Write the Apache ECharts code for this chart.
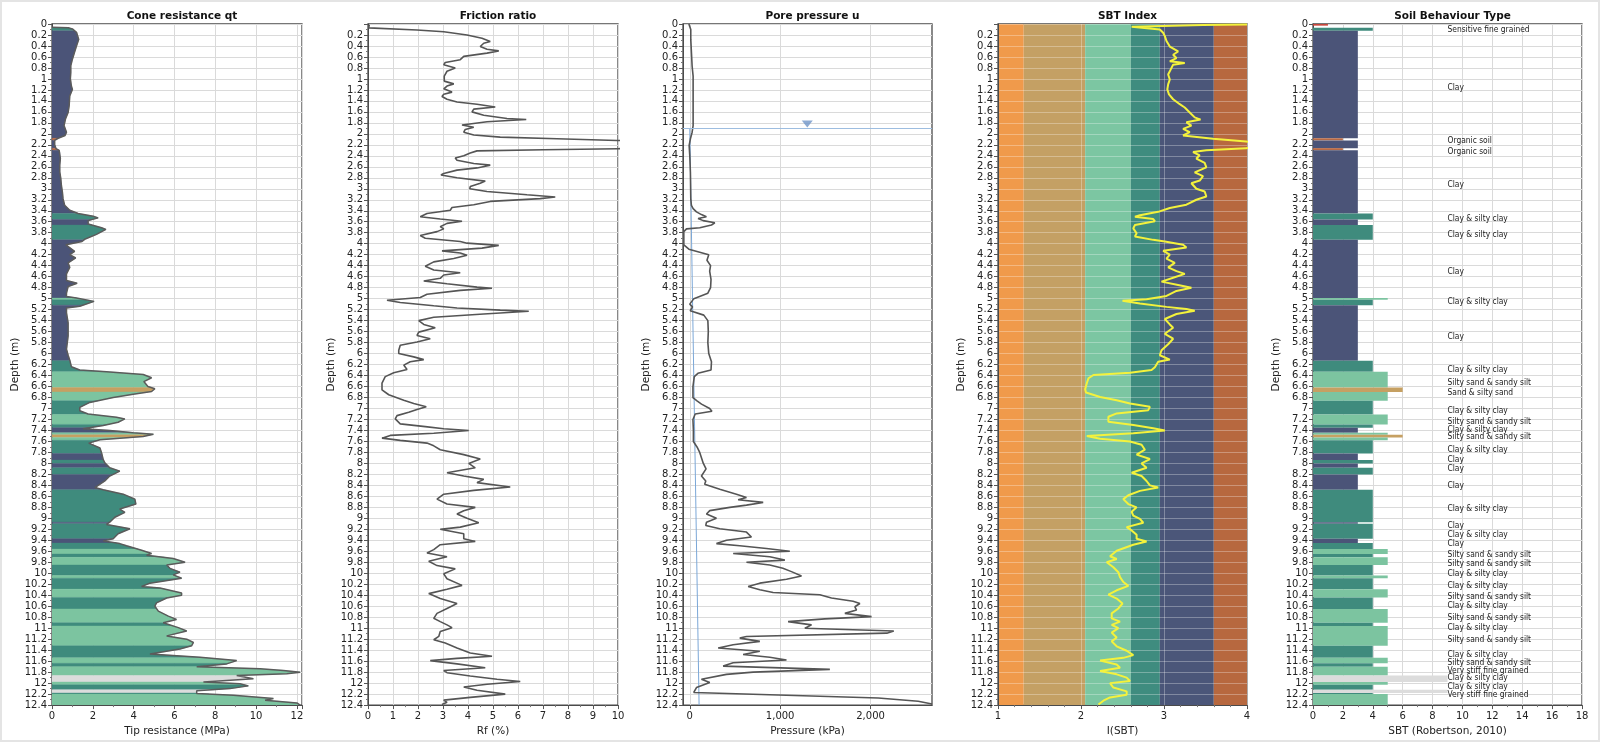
<!DOCTYPE html>
<html><head><meta charset="utf-8">
<script src="https://cdn.jsdelivr.net/npm/echarts@6/dist/echarts.min.js"></script>
<style>html,body{margin:0;padding:0;background:#fff}#c{width:1600px;height:742px}</style>
</head><body><div id="c"></div><script>
// ---------------- DATA ----------------
const panelTitles = ['Cone resistance qt','Friction ratio','Pore pressure u','SBT Index','Soil Behaviour Type'];
const xAxisNames = ['Tip resistance (MPa)','Rf (%)','Pressure (kPa)','I(SBT)','SBT (Robertson, 2010)'];

// Cone resistance qt (MPa) vs depth (m)
const qtDepth = [0.06,0.07,0.09,0.12,0.15,0.28,0.40,0.52,0.64,0.76,0.88,1.00,1.13,1.19,1.31,1.49,1.61,1.73,1.85,1.97,2.03,2.08,2.12,2.20,2.27,2.30,2.33,2.45,2.57,2.69,2.81,2.94,3.06,3.18,3.30,3.39,3.45,3.50,3.53,3.58,3.64,3.71,3.74,3.83,3.92,3.96,4.02,4.14,4.20,4.26,4.35,4.43,4.55,4.67,4.72,4.78,4.90,4.96,4.99,5.05,5.14,5.17,5.26,5.44,5.68,5.92,6.03,6.12,6.24,6.30,6.33,6.38,6.44,6.51,6.60,6.64,6.69,6.74,6.80,6.89,6.98,7.04,7.10,7.16,7.19,7.25,7.31,7.37,7.40,7.44,7.47,7.51,7.57,7.63,7.72,7.81,7.93,7.99,8.08,8.14,8.23,8.32,8.44,8.48,8.56,8.65,8.74,8.83,8.89,8.98,9.07,9.11,9.19,9.28,9.37,9.41,9.46,9.50,9.58,9.64,9.67,9.73,9.80,9.85,9.91,9.98,10.03,10.09,10.18,10.24,10.27,10.36,10.40,10.45,10.54,10.60,10.69,10.78,10.84,10.90,10.99,11.05,11.14,11.20,11.26,11.32,11.38,11.47,11.53,11.59,11.65,11.70,11.74,11.77,11.80,11.83,11.86,11.92,11.98,12.01,12.05,12.10,12.14,12.19,12.22,12.28,12.31,12.36,12.40];
const qtValue = [0.0,0.8,1.0,1.1,1.2,1.31,1.2,1.1,1.0,0.92,0.92,0.9,0.95,1.0,0.87,0.84,0.79,0.66,0.59,0.71,0.64,0.3,0.13,0.13,0.2,0.35,0.38,0.41,0.38,0.38,0.43,0.46,0.51,0.54,0.62,0.87,1.28,2.02,2.26,1.77,1.77,2.43,2.64,2.18,1.6,1.47,0.68,1.11,0.87,1.16,0.79,0.87,0.71,0.71,1.23,0.79,0.71,0.71,1.2,2.06,1.36,0.71,0.71,0.79,0.79,0.71,0.79,0.87,0.95,1.36,2.67,4.47,4.88,4.5,4.7,5.04,4.88,3.98,3.0,1.85,1.36,1.36,1.77,3.16,3.57,3.24,2.51,1.52,2.83,3.98,4.97,4.47,2.35,1.8,2.35,2.43,2.51,2.59,2.83,3.32,2.83,2.59,2.1,2.51,3.49,4.06,4.11,3.32,3.57,3.08,2.83,2.67,3.82,3.24,3.0,2.51,3.32,3.65,4.39,4.88,4.63,5.94,6.52,5.62,5.78,6.27,5.94,6.35,4.8,4.39,5.29,6.35,6.35,5.62,5.12,5.04,5.21,5.7,6.1,5.45,6.19,6.6,5.62,6.6,6.93,6.84,6.27,4.8,7.25,9.05,8.56,7.09,10.2,11.34,12.16,11.5,9.05,9.87,7.42,9.21,9.62,8.72,7.09,7.09,8.89,10.85,10.44,12.0,12.16];

// Friction ratio Rf (%)
const rfDepth = [0.01,0.07,0.11,0.14,0.20,0.26,0.32,0.35,0.41,0.46,0.49,0.53,0.59,0.65,0.70,0.74,0.80,0.86,0.95,1.04,1.09,1.13,1.18,1.24,1.28,1.32,1.37,1.42,1.46,1.51,1.55,1.60,1.66,1.72,1.74,1.78,1.84,1.88,1.92,1.97,2.02,2.06,2.09,2.12,2.15,2.25,2.27,2.29,2.31,2.35,2.40,2.44,2.48,2.54,2.57,2.62,2.66,2.72,2.75,2.80,2.86,2.90,2.96,3.00,3.05,3.11,3.15,3.18,3.23,3.29,3.34,3.39,3.45,3.51,3.55,3.59,3.63,3.69,3.73,3.78,3.85,3.90,3.96,3.99,4.03,4.08,4.13,4.17,4.21,4.27,4.33,4.41,4.48,4.53,4.57,4.63,4.68,4.73,4.79,4.81,4.85,4.92,4.98,5.03,5.07,5.13,5.17,5.21,5.23,5.28,5.34,5.40,5.47,5.53,5.61,5.67,5.73,5.79,5.85,5.94,6.00,6.06,6.11,6.15,6.21,6.29,6.35,6.42,6.54,6.66,6.75,6.85,6.91,6.97,7.02,7.07,7.13,7.19,7.28,7.33,7.37,7.40,7.45,7.49,7.54,7.58,7.63,7.68,7.75,7.84,7.92,8.00,8.08,8.17,8.23,8.29,8.35,8.43,8.49,8.56,8.65,8.74,8.80,8.86,8.92,9.00,9.08,9.16,9.20,9.28,9.37,9.42,9.48,9.57,9.63,9.70,9.78,9.86,9.92,10.01,10.10,10.22,10.29,10.37,10.46,10.55,10.64,10.73,10.82,10.88,10.94,10.99,11.06,11.15,11.21,11.27,11.36,11.45,11.51,11.55,11.59,11.65,11.72,11.77,11.81,11.87,11.93,11.97,12.02,12.07,12.13,12.20,12.26,12.31,12.35,12.39];
const rfValue = [0.05,0.03,1.96,3.03,3.96,4.56,4.89,4.63,4.49,4.76,5.23,4.76,3.83,3.69,3.09,3.03,3.49,3.16,3.05,3.05,3.43,3.16,3.03,3.36,3.03,2.96,3.16,3.56,4.36,5.09,4.23,4.16,4.63,5.56,6.33,4.76,3.76,4.23,3.89,3.83,4.23,5.29,7.56,9.96,13,13,10,7.03,4.36,4.09,3.83,3.49,3.56,4.23,4.89,4.36,3.56,3.03,2.92,3.56,4.69,4.49,4.09,4.07,4.76,6.36,7.49,6.89,4.89,4.23,3.36,3.29,2.36,2.09,2.89,3.76,3.16,2.89,3.03,2.76,2.09,2.29,3.69,3.96,5.23,4.56,2.96,3.69,3.96,3.43,2.63,2.29,2.63,3.69,3.03,2.89,2.23,3.16,4.36,4.96,3.69,2.36,2.09,0.76,1.29,2.63,3.56,5.29,6.43,4.63,2.63,2.03,2.23,2.69,2.03,1.96,2.49,1.96,1.29,1.23,1.23,1.83,2.23,1.69,1.43,1.56,1.03,0.69,0.56,0.56,0.83,1.43,1.83,2.33,1.96,1.63,1.16,1.09,1.29,2.29,3.03,4.03,2.63,0.89,0.56,1.29,2.36,2.63,2.89,3.83,4.49,4.03,4.29,3.16,3.83,4.63,4.36,5.69,4.23,3.03,2.76,3.16,4.29,3.83,3.56,3.96,4.43,3.69,2.89,3.83,3.83,4.29,2.89,2.63,2.36,3.16,2.43,2.76,3.49,3.03,3.16,3.76,3.16,2.43,2.89,3.56,3.16,2.76,2.63,2.89,3.16,3.36,2.89,2.83,2.63,3.09,3.56,4.09,4.96,3.56,2.49,3.56,4.69,3.03,3.16,4.09,5.16,6.09,4.76,3.83,4.36,5.49,4.09,3.03,3.16,2.96];

// Pore pressure u (kPa)
const uDepth = [0.00,0.10,0.28,0.77,0.95,1.37,1.85,1.97,2.09,2.21,2.40,2.70,3.18,3.30,3.36,3.42,3.47,3.51,3.54,3.58,3.62,3.66,3.71,3.73,3.78,4.02,4.10,4.20,4.30,4.40,4.50,4.65,4.80,4.90,5.00,5.10,5.15,5.22,5.30,5.40,5.60,5.80,6.00,6.15,6.30,6.36,6.42,6.60,6.80,6.86,6.92,7.00,7.05,7.10,7.20,7.40,7.60,7.70,7.80,8.00,8.10,8.23,8.32,8.38,8.47,8.56,8.62,8.66,8.71,8.76,8.80,8.86,8.92,9.00,9.07,9.13,9.19,9.25,9.34,9.40,9.46,9.50,9.55,9.60,9.64,9.70,9.76,9.80,9.85,9.91,9.97,10.05,10.11,10.18,10.24,10.30,10.35,10.39,10.45,10.51,10.55,10.61,10.67,10.73,10.79,10.83,10.88,10.94,11.00,11.05,11.09,11.15,11.18,11.24,11.30,11.36,11.42,11.48,11.53,11.58,11.63,11.69,11.75,11.80,11.84,11.93,11.99,12.08,12.17,12.22,12.27,12.33,12.38];
const uValue = [-10,11,11,26,37,37,37,26,7,-7,0,7,11,18,37,74,129,184,92,148,277,240,111,-36,-66,-66,-10,210,190,230,220,235,230,200,45,0,30,5,155,200,205,200,210,240,235,90,50,35,35,80,130,220,245,60,35,40,40,80,110,150,180,129,177,165,332,516,627,535,812,627,443,221,185,295,185,177,332,627,682,406,295,553,849,1107,480,885,1052,627,885,1030,1125,1236,1070,775,646,775,922,1439,1568,1807,1882,1827,1845,1716,2011,1494,1088,1347,1273,2257,2180,627,553,775,480,314,775,590,885,1070,480,369,1550,701,406,129,221,74,44,1070,2085,2527,2680];
// Hydrostatic line u0 and water table
const u0Depth = [1.9,12.4];
const u0Value = [0,103];
const waterTableDepth = 1.9;
const waterMarker = [1300,1.82];

// SBT index Ic
const icDepth = [0.01,0.02,0.05,0.08,0.10,0.16,0.22,0.31,0.41,0.50,0.56,0.62,0.68,0.71,0.74,0.83,0.92,1.01,1.10,1.19,1.28,1.37,1.46,1.52,1.61,1.70,1.74,1.79,1.85,1.91,1.97,2.03,2.09,2.14,2.18,2.24,2.26,2.30,2.33,2.39,2.45,2.53,2.61,2.70,2.77,2.85,2.90,3.00,3.05,3.14,3.20,3.29,3.35,3.42,3.48,3.51,3.55,3.59,3.66,3.72,3.81,3.87,3.93,3.96,4.02,4.07,4.13,4.20,4.27,4.35,4.43,4.50,4.55,4.62,4.69,4.75,4.80,4.86,4.95,5.01,5.04,5.09,5.15,5.19,5.22,5.28,5.37,5.47,5.53,5.64,5.73,5.83,5.94,6.03,6.11,6.15,6.25,6.30,6.35,6.39,6.45,6.54,6.65,6.71,6.79,6.85,6.91,6.97,7.03,7.09,7.15,7.24,7.30,7.36,7.40,7.45,7.50,7.55,7.60,7.66,7.75,7.84,7.92,8.00,8.08,8.17,8.23,8.32,8.40,8.44,8.50,8.58,8.65,8.74,8.80,8.88,8.95,9.01,9.08,9.16,9.22,9.30,9.37,9.42,9.48,9.59,9.69,9.74,9.80,9.89,9.98,10.07,10.16,10.23,10.31,10.39,10.46,10.55,10.64,10.73,10.82,10.88,10.94,11.00,11.08,11.17,11.24,11.33,11.41,11.49,11.54,11.59,11.66,11.72,11.78,11.84,11.90,11.96,12.00,12.08,12.15,12.21,12.26,12.32,12.39];
const icValue = [4.0,3.47,2.61,2.61,2.95,2.99,3.01,3.03,3.07,3.17,3.11,3.15,3.07,3.25,3.11,3.08,3.05,3.07,3.05,3.04,3.06,3.11,3.19,3.25,3.31,3.37,3.44,3.27,3.33,3.23,3.31,3.23,3.59,3.99,4.3,4.3,3.99,3.51,3.35,3.43,3.39,3.49,3.51,3.37,3.47,3.43,3.33,3.39,3.49,3.51,3.39,3.27,3.07,2.93,2.71,2.65,2.87,2.89,2.65,2.63,2.67,2.65,2.87,3.01,3.23,3.27,2.99,3.07,3.03,3.13,3.05,3.15,3.25,3.11,2.97,3.17,3.33,3.15,3.03,2.79,2.50,2.71,3.03,3.27,3.37,3.15,3.01,3.07,3.11,3.01,3.11,3.05,2.97,2.95,3.07,2.93,2.89,2.85,2.59,2.15,2.09,2.07,2.05,2.06,2.23,2.43,2.59,2.83,2.81,2.43,2.33,2.33,2.63,2.87,3.01,2.63,2.07,2.23,2.59,2.73,2.77,2.67,2.83,2.73,2.79,2.61,2.73,2.79,2.83,2.93,2.71,2.57,2.51,2.57,2.67,2.61,2.63,2.71,2.75,2.55,2.61,2.67,2.67,2.79,2.63,2.43,2.35,2.43,2.31,2.39,2.45,2.47,2.51,2.57,2.43,2.33,2.43,2.50,2.45,2.37,2.37,2.47,2.37,2.45,2.37,2.43,2.37,2.43,2.55,2.63,2.51,2.23,2.43,2.47,2.23,2.43,2.55,2.59,2.35,2.39,2.55,2.55,2.35,2.27,2.21];
// Ic zone boundaries (Robertson)
const icBandLow  = [1.0,1.31,2.05,2.60,2.95,3.60];
const icBandHigh = [1.31,2.05,2.60,2.95,3.60,4.0];
const icBandZone = [7,6,5,4,3,2];

// SBT layers (Robertson 2010 zone number)
const layerTop    = [0.00,0.07,0.125,2.08,2.12,2.26,2.30,3.45,3.56,3.66,3.93,4.99,5.02,5.12,6.13,6.33,6.62,6.70,6.86,7.11,7.29,7.35,7.44,7.48,7.53,7.58,7.82,7.94,8.00,8.08,8.20,8.48,9.07,9.10,9.37,9.45,9.56,9.65,9.71,9.85,10.04,10.09,10.29,10.44,10.65,10.90,10.96,11.32,11.54,11.64,11.70,11.86,11.98,12.03,12.12,12.18,12.20];
const layerBottom = [0.03,0.125,2.08,2.12,2.26,2.30,3.45,3.56,3.66,3.93,4.99,5.02,5.12,6.13,6.33,6.62,6.70,6.86,7.11,7.29,7.35,7.44,7.48,7.53,7.58,7.82,7.94,8.00,8.08,8.20,8.48,9.07,9.10,9.37,9.45,9.56,9.65,9.71,9.85,10.04,10.09,10.29,10.44,10.65,10.90,10.96,11.32,11.54,11.64,11.70,11.86,11.98,12.03,12.12,12.18,12.20,12.40];
const layerZone   = [1,4,3,2,3,2,3,4,3,4,3,5,4,3,4,5,6,5,4,5,4,3,5,6,5,4,3,4,3,4,3,4,3,4,3,4,5,4,5,4,5,4,5,4,5,4,5,4,5,4,5,9,5,4,9,4,5];

// SBT layer description labels
const labelDepth = [0.11,1.16,2.12,2.32,2.92,3.54,3.84,4.52,5.05,5.69,6.29,6.53,6.71,7.04,7.24,7.38,7.51,7.76,7.94,8.10,8.40,8.82,9.13,9.30,9.46,9.66,9.83,10.01,10.23,10.42,10.60,10.82,10.99,11.21,11.49,11.63,11.77,11.90,12.06,12.22];
const labelText = ['Sensitive fine grained','Clay','Organic soil','Organic soil','Clay','Clay & silty clay','Clay & silty clay','Clay','Clay & silty clay','Clay','Clay & silty clay','Silty sand & sandy silt','Sand & silty sand','Clay & silty clay','Silty sand & sandy silt','Clay & silty clay','Silty sand & sandy silt','Clay & silty clay','Clay','Clay','Clay','Clay & silty clay','Clay','Clay & silty clay','Clay','Silty sand & sandy silt','Silty sand & sandy silt','Clay & silty clay','Clay & silty clay','Silty sand & sandy silt','Clay & silty clay','Silty sand & sandy silt','Clay & silty clay','Silty sand & sandy silt','Clay & silty clay','Silty sand & sandy silt','Very stiff fine grained','Clay & silty clay','Clay & silty clay','Very stiff fine grained'];

const zoneColor = {1:'#c8463c',2:'#b86a45',3:'#4b5478',4:'#3f8b7d',5:'#7cc4a0',6:'#c6a062',7:'#f0994a',8:'#e6b478',9:'#dcdcdc'};
const bandColor = {7:'#f09a4b',6:'#c4a064',5:'#7cc6a2',4:'#3f8c7f',3:'#4b5679',2:'#b7683f'};

// ---------------- LAYOUT ----------------
const F = 'DejaVu Sans, Verdana, sans-serif';
const TXT = '#222';
const grids = [
  {left:52, width:250},
  {left:368, width:250},
  {left:683, width:249},
  {left:998, width:249},
  {left:1313, width:269}
].map(g => Object.assign({top:24, height:687, show:true, borderColor:'#4a4a4a', borderWidth:1.3, backgroundColor:'transparent'}, g));

function yAx(gi, showMin, extra){
  return Object.assign({
    type:'value', gridIndex:gi, inverse:true, min:0, max:12.4, interval:0.2,
    name:'Depth (m)', nameLocation:'middle', nameGap:30,
    nameTextStyle:{fontSize:10.5, color:TXT, fontFamily:F},
    axisLine:{show:true, onZero:false, lineStyle:{color:'#4a4a4a'}},
    axisTick:{show:true, length:4, lineStyle:{color:'#555'}},
    minorTick:{show:true, splitNumber:2, length:2, lineStyle:{color:'#777'}},
    axisLabel:{showMinLabel:showMin, fontSize:10, color:TXT, fontFamily:F, margin:5,
      formatter: v => String(Math.round(v*10)/10)},
    splitLine:{show:true, lineStyle:{color:'#dadada', width:1}}
  }, extra||{});
}
function xAx(gi, o, extra){
  return Object.assign({
    type:'value', gridIndex:gi, position:'bottom',
    name:xAxisNames[gi], nameLocation:'middle', nameGap:20,
    nameTextStyle:{fontSize:10.5, color:TXT, fontFamily:F},
    axisLine:{show:true, onZero:false, lineStyle:{color:'#4a4a4a'}},
    axisTick:{show:true, length:4, lineStyle:{color:'#555'}},
    minorTick:{show:true, splitNumber:2, length:2, lineStyle:{color:'#777'}},
    axisLabel:{fontSize:10, color:TXT, fontFamily:F, margin:6},
    splitLine:{show:true, lineStyle:{color:'#dadada', width:1}}
  }, o, extra||{});
}

function interp(ds, vs, d){
  if (d <= ds[0]) return vs[0];
  for (let k=1;k<ds.length;k++){
    if (d <= ds[k]) { const t=(d-ds[k-1])/(ds[k]-ds[k-1]); return vs[k-1]+t*(vs[k]-vs[k-1]); }
  }
  return vs[vs.length-1];
}

const xAxes = [
  xAx(0,{min:0,max:12.25,interval:2, axisLabel:{fontSize:10,color:TXT,fontFamily:F,margin:6,customValues:[0,2,4,6,8,10,12]}}),
  xAx(1,{min:0,max:10,interval:1}),
  xAx(2,{min:-75,max:2680,
     axisLabel:{fontSize:10,color:TXT,fontFamily:F,margin:6,customValues:[0,1000,2000],formatter:v=>v.toLocaleString('en-US')},
     axisTick:{show:true,length:4,lineStyle:{color:'#555'},customValues:[0,1000,2000]},
     minorTick:{show:false}}),
  xAx(3,{min:1,max:4,interval:1, z:3,
     minorTick:{show:true,splitNumber:5,length:2,lineStyle:{color:'#777'}},
     splitLine:{show:true,lineStyle:{color:'rgba(255,255,255,0.3)',width:1}}}),
  xAx(4,{min:0,max:18,interval:2})
];
const yAxes = [
  yAx(0,true), yAx(1,false), yAx(2,true),
  yAx(3,false,{z:3, splitLine:{show:true,lineStyle:{color:'rgba(255,255,255,0.3)',width:1}}}),
  yAx(4,true)
];

const titles = panelTitles.map((t,i)=>({
  text:t, left: grids[i].left + grids[i].width/2, top:6, textAlign:'center',
  textStyle:{fontSize:10.5, fontWeight:'bold', color:'#111', fontFamily:F}
}));

const series = [];
// Panel 1: qt fill coloured by SBT layer
series.push({
  type:'custom', xAxisIndex:0, yAxisIndex:0, clip:true, z:2,
  data: layerTop.map((t,i)=>[0, t, layerBottom[i], layerZone[i]]),
  encode:{x:0, y:[1,2]},
  renderItem(params, api){
    let top = api.value(1), bot = api.value(2); const z = api.value(3);
    top = Math.max(top, qtDepth[0]); bot = Math.min(bot, qtDepth[qtDepth.length-1]);
    if (bot <= top) return null;
    const pts = [api.coord([0,top]), api.coord([interp(qtDepth,qtValue,top), top])];
    for (let k=0;k<qtDepth.length;k++) if (qtDepth[k]>top && qtDepth[k]<bot) pts.push(api.coord([qtValue[k], qtDepth[k]]));
    pts.push(api.coord([interp(qtDepth,qtValue,bot), bot]), api.coord([0,bot]));
    return {type:'polygon', shape:{points:pts}, style:{fill:zoneColor[z], stroke:zoneColor[z], lineWidth:0.4}};
  }
});
series.push({type:'line', xAxisIndex:0, yAxisIndex:0, showSymbol:false, z:3,
  data: qtDepth.map((d,i)=>[qtValue[i], d]), lineStyle:{color:'#5b5b5b', width:1.5}});
// Panel 2: Rf
series.push({type:'line', xAxisIndex:1, yAxisIndex:1, showSymbol:false, clip:true,
  data: rfDepth.map((d,i)=>[rfValue[i], d]), lineStyle:{color:'#555', width:1.6}});
// Panel 3: u, u0, water table
series.push({type:'line', xAxisIndex:2, yAxisIndex:2, showSymbol:false, clip:true, z:3,
  data: uDepth.map((d,i)=>[uValue[i], d]), lineStyle:{color:'#555', width:1.6}});
series.push({type:'line', xAxisIndex:2, yAxisIndex:2, showSymbol:false, z:2,
  data: u0Depth.map((d,i)=>[u0Value[i], d]), lineStyle:{color:'#7ba7d7', width:1},
  markLine:{silent:true, symbol:['none','none'], label:{show:false},
    lineStyle:{color:'#9dbde0', width:1, type:'solid'}, data:[{yAxis:waterTableDepth}]}});
series.push({type:'scatter', xAxisIndex:2, yAxisIndex:2, z:4, symbol:'triangle', symbolRotate:180, symbolSize:[11,7],
  itemStyle:{color:'#6f95c8'}, data:[waterMarker]});
// Panel 4: Ic bands + line
series.push({type:'custom', xAxisIndex:3, yAxisIndex:3, z:1,
  data: icBandLow.map((l,i)=>[l, icBandHigh[i], icBandZone[i]]),
  encode:{x:[0,1]},
  renderItem(params, api){
    const p1 = api.coord([api.value(0), 0]), p2 = api.coord([api.value(1), 12.4]);
    return {type:'rect', shape:{x:p1[0], y:p1[1], width:p2[0]-p1[0], height:p2[1]-p1[1]},
      style:{fill:bandColor[api.value(2)]}};
  }});
series.push({type:'line', xAxisIndex:3, yAxisIndex:3, showSymbol:false, clip:true, z:5,
  data: icDepth.map((d,i)=>[icValue[i], d]), lineStyle:{color:'#f4f23c', width:2}});
// Panel 5: SBT bars + labels
series.push({type:'custom', xAxisIndex:4, yAxisIndex:4, z:2,
  data: layerTop.map((t,i)=>[layerZone[i], t, layerBottom[i]]),
  encode:{x:0, y:[1,2]},
  renderItem(params, api){
    const p1 = api.coord([0, api.value(1)]), p2 = api.coord([api.value(0), api.value(2)]);
    return {type:'rect', shape:{x:p1[0], y:p1[1], width:p2[0]-p1[0], height:p2[1]-p1[1]},
      style:{fill:zoneColor[api.value(0)]}};
  }});
series.push({type:'custom', xAxisIndex:4, yAxisIndex:4, z:4,
  data: labelDepth.map((d,i)=>[9, d, i]),
  encode:{x:0, y:1},
  renderItem(params, api){
    const p = api.coord([api.value(0), api.value(1)]);
    return {type:'text', x:p[0], y:p[1], style:{text:labelText[api.value(2)], fill:'#1a1a1a',
      font:"8.4px 'Liberation Sans Narrow','DejaVu Sans Condensed',sans-serif", align:'left', verticalAlign:'middle'}};
  }});

const chart = echarts.init(document.getElementById('c'));
chart.setOption({
  animation:false,
  backgroundColor:'#fff',
  title: titles,
  grid: grids,
  xAxis: xAxes,
  yAxis: yAxes,
  series: series,
  graphic:[{type:'rect', shape:{x:1,y:1,width:1598,height:740}, style:{fill:'none', stroke:'#e4e4e4', lineWidth:2}, silent:true, z:-10}]
});
</script></body></html>
